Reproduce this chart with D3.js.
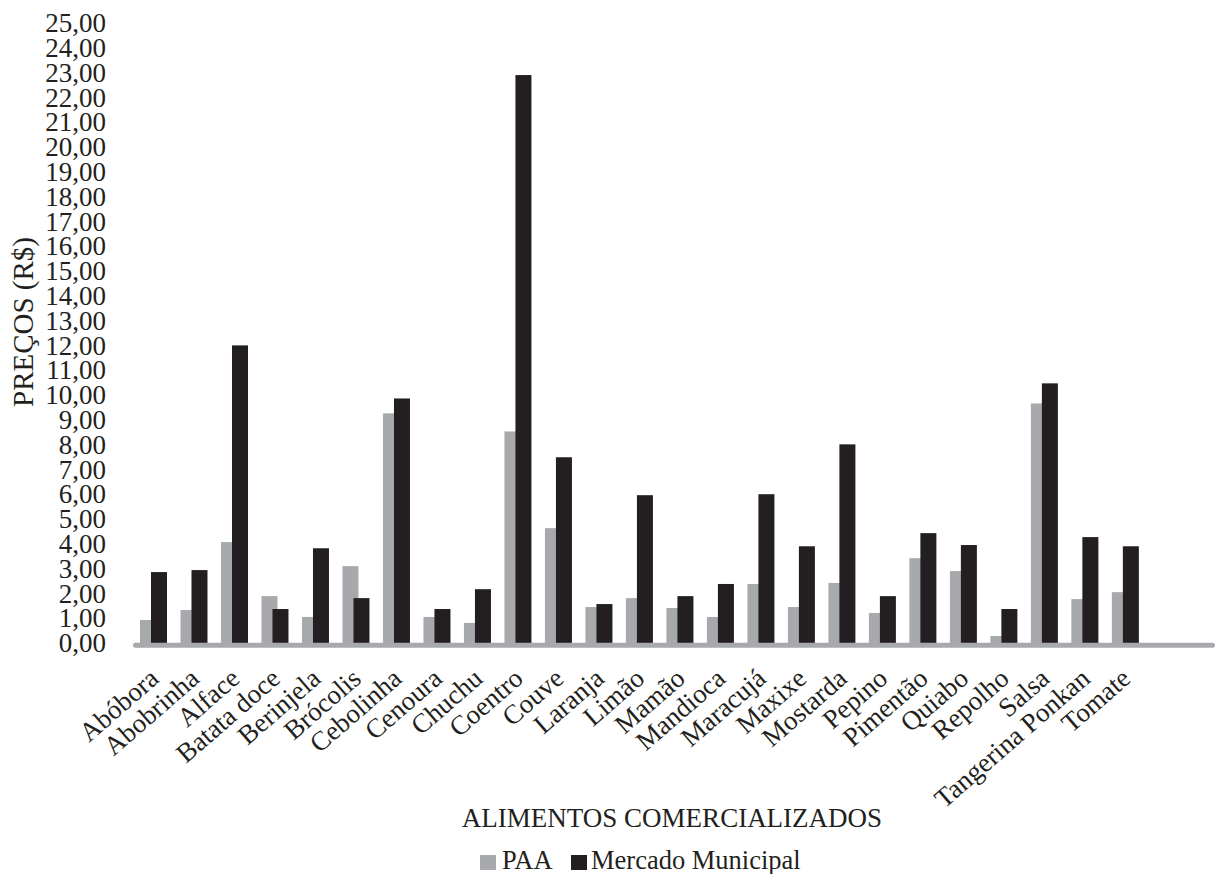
<!DOCTYPE html>
<html>
<head>
<meta charset="utf-8">
<script src="https://cdn.jsdelivr.net/npm/d3@7"></script>
<style>
  html, body { margin: 0; padding: 0; background: #fff; }
  svg { display: block; }
  text { font-family: "Liberation Serif", "Times New Roman", serif; fill: #231f20; }
</style>
</head>
<body>
<svg id="chart" width="1217" height="874"></svg>
<script>
// Foods sold and their prices (R$) in the two channels
const categories = [
  "Abóbora", "Abobrinha", "Alface", "Batata doce", "Berinjela", "Brócolis",
  "Cebolinha", "Cenoura", "Chuchu", "Coentro", "Couve", "Laranja", "Limão",
  "Mamão", "Mandioca", "Maracujá", "Maxixe", "Mostarda", "Pepino", "Pimentão",
  "Quiabo", "Repolho", "Salsa", "Tangerina Ponkan", "Tomate"
];
const paa = [
  0.93, 1.33, 4.07, 1.89, 1.05, 3.10, 9.26, 1.05, 0.81, 8.53, 4.63, 1.45, 1.81,
  1.41, 1.05, 2.38, 1.45, 2.42, 1.21, 3.42, 2.90, 0.28, 9.66, 1.77, 2.05
];
const mercado = [
  2.86, 2.94, 12.00, 1.37, 3.82, 1.81, 9.86, 1.37, 2.17, 22.90, 7.49, 1.57, 5.96,
  1.89, 2.38, 6.00, 3.90, 8.01, 1.89, 4.43, 3.95, 1.37, 10.47, 4.27, 3.90
];
const yTicks = d3.range(0, 26, 1);
const seriesNames = ["PAA", "Mercado Municipal"];
const seriesColors = ["#a7a9ac", "#231f20"];

const svg = d3.select("#chart");

// Scales
const y = d3.scaleLinear().domain([0, 25]).range([643, 23]);
const x = d3.scaleBand()
  .domain(categories)
  .range([133, 1215])
  .paddingInner(0)
  .paddingOuter(0.86)
  .align(0);
const step = x.step();
const barW = 16;
const offsets = [7, 18]; // left edge of each series' bar inside a slot (bars overlap slightly)

// Y tick labels
svg.append("g")
  .selectAll("text")
  .data(yTicks)
  .join("text")
  .attr("x", 106)
  .attr("y", d => y(d))
  .attr("dy", "0.34em")
  .attr("text-anchor", "end")
  .attr("font-size", 27)
  .text(d => d3.format(".2f")(d).replace(".", ","));

// Y title
svg.append("text")
  .attr("transform", "translate(33,322) rotate(-90)")
  .attr("text-anchor", "middle")
  .attr("font-size", 29)
  .text("PREÇOS (R$)");

// Bars: PAA first, Mercado Municipal drawn on top
[paa, mercado].forEach((vals, s) => {
  svg.append("g")
    .attr("fill", seriesColors[s])
    .selectAll("rect")
    .data(categories)
    .join("rect")
    .attr("x", (c) => x(c) + offsets[s])
    .attr("width", barW)
    .attr("y", (c, i) => y(vals[i]))
    .attr("height", (c, i) => y(0) - y(vals[i]));
});

// Category axis line
svg.append("line")
  .attr("x1", x.range()[0] + 2.5)
  .attr("x2", x.range()[1] - 2.5)
  .attr("y1", y(0) + 2.3)
  .attr("y2", y(0) + 2.3)
  .attr("stroke", "#a7a9ac")
  .attr("stroke-width", 5)
  .attr("stroke-linecap", "round");

// Category labels, rotated
svg.append("g")
  .selectAll("text")
  .data(categories)
  .join("text")
  .attr("transform", c => `translate(${x(c) + step / 2 + 7},${y(0) + 38}) rotate(-41)`)
  .attr("text-anchor", "end")
  .attr("font-size", 27)
  .text(c => c);

// X title
svg.append("text")
  .attr("x", 672)
  .attr("y", 827)
  .attr("text-anchor", "middle")
  .attr("font-size", 27)
  .text("ALIMENTOS COMERCIALIZADOS");

// Legend
const legendItems = [
  { name: seriesNames[0], color: seriesColors[0], sx: 480, tx: 502 },
  { name: seriesNames[1], color: seriesColors[1], sx: 571, tx: 591 }
];
const lg = svg.append("g");
lg.selectAll("rect")
  .data(legendItems)
  .join("rect")
  .attr("x", d => d.sx)
  .attr("y", 855)
  .attr("width", 16)
  .attr("height", 15)
  .attr("fill", d => d.color);
lg.selectAll("text")
  .data(legendItems)
  .join("text")
  .attr("x", d => d.tx)
  .attr("y", 869)
  .attr("font-size", 26.5)
  .text(d => d.name);
</script>
</body>
</html>
